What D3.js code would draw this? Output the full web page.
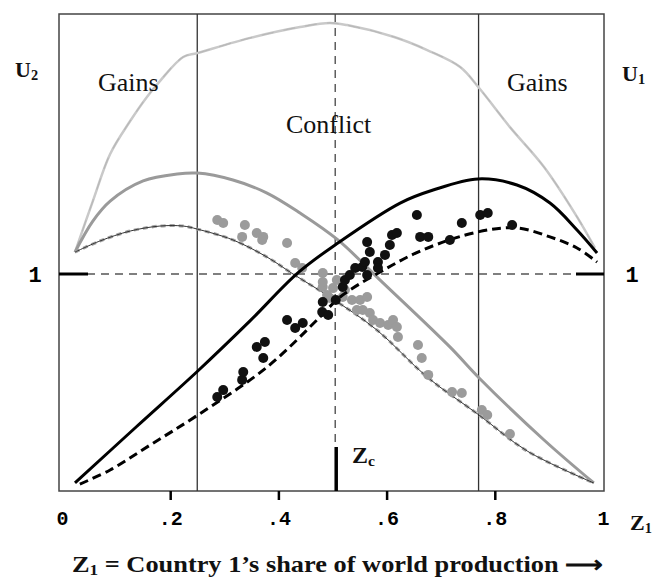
<!DOCTYPE html>
<html>
<head>
<meta charset="utf-8">
<script src="https://cdn.jsdelivr.net/npm/d3@7"></script>
<style>
  body { margin: 0; background: #fff; }
  svg { display: block; }
</style>
</head>
<body>
<div id="chart"></div>
<script>
const width = 657,
  height = 582;

// x = Z1 (country 1's share), y = utility
const tickValues = [0, 0.2, 0.4, 0.6, 0.8, 1];
const gainsLeft = 0.25;
const gainsRight = 0.77;
const zc = 0.505;

// curves [z, U]
const u2Upper = [[0.024,1.101],[0.057,1.336],[0.089,1.553],[0.126,1.705],[0.157,1.816],[0.181,1.889],[0.224,2.0],[0.25,2.018],[0.348,2.088],[0.44,2.138],[0.495,2.157],[0.527,2.147],[0.614,2.092],[0.675,2.032],[0.736,1.954],[0.771,1.857],[0.828,1.677],[0.891,1.493],[0.952,1.263],[0.985,1.12]];
const u2Model = [[0.024,1.101],[0.057,1.244],[0.089,1.336],[0.15,1.429],[0.213,1.461],[0.25,1.465],[0.316,1.433],[0.379,1.373],[0.44,1.281],[0.51,1.157],[0.588,0.972],[0.717,0.664],[0.771,0.521],[0.891,0.235],[0.983,0.037]];
const u2Lower = [[0.024,1.101],[0.07,1.152],[0.126,1.198],[0.181,1.221],[0.224,1.221],[0.25,1.207],[0.316,1.157],[0.379,1.078],[0.427,1.0],[0.495,0.894],[0.582,0.742],[0.675,0.525],[0.771,0.35],[0.86,0.184],[0.983,0.037]];
const u1Model = [[0.024,0.037],[0.137,0.295],[0.251,0.553],[0.348,0.785],[0.436,1.005],[0.51,1.143],[0.625,1.327],[0.686,1.387],[0.769,1.438],[0.841,1.41],[0.902,1.327],[0.952,1.203],[0.989,1.097]];
const u1Lower = [[0.033,0.032],[0.089,0.097],[0.163,0.212],[0.251,0.35],[0.379,0.571],[0.477,0.802],[0.514,0.894],[0.588,1.009],[0.667,1.111],[0.769,1.194],[0.841,1.212],[0.902,1.171],[0.952,1.12],[0.989,1.055]];

// observed points
const u2Dots = [[0.287,1.249],[0.298,1.235],[0.338,1.226],[0.333,1.171],[0.36,1.189],[0.372,1.171],[0.37,1.157],[0.416,1.143],[0.431,1.051],[0.444,1.028],[0.482,1.005],[0.482,0.94],[0.495,0.889],[0.508,0.972],[0.482,0.963],[0.49,0.903],[0.501,0.935],[0.519,0.894],[0.523,0.926],[0.536,0.88],[0.551,0.88],[0.564,0.894],[0.545,0.834],[0.556,0.834],[0.569,0.82],[0.575,0.788],[0.588,0.774],[0.603,0.765],[0.612,0.788],[0.619,0.756],[0.621,0.71],[0.658,0.673],[0.665,0.613],[0.677,0.535],[0.721,0.456],[0.739,0.452],[0.776,0.373],[0.786,0.35],[0.828,0.263]];
const u1Dots = [[0.287,0.433],[0.298,0.465],[0.333,0.512],[0.335,0.548],[0.36,0.664],[0.375,0.687],[0.372,0.613],[0.416,0.788],[0.431,0.751],[0.445,0.774],[0.481,0.825],[0.482,0.871],[0.492,0.811],[0.506,0.88],[0.519,0.94],[0.523,0.972],[0.532,0.995],[0.542,1.028],[0.555,1.032],[0.564,0.995],[0.56,1.055],[0.584,1.055],[0.584,1.028],[0.597,1.088],[0.569,1.101],[0.564,1.147],[0.606,1.134],[0.61,1.18],[0.619,1.189],[0.662,1.171],[0.677,1.171],[0.656,1.272],[0.739,1.235],[0.717,1.157],[0.773,1.272],[0.787,1.281],[0.832,1.226]];

const svg = d3
  .select("#chart")
  .append("svg")
  .attr("width", width)
  .attr("height", height);

svg.append("rect").attr("width", width).attr("height", height).attr("fill", "#fff");

const frame = { left: 59, right: 604, top: 14, bottom: 491 };

const xScale = d3.scaleLinear().domain([0, 1]).range([62, 603]);
const yScale = d3.scaleLinear().domain([0, 1]).range([491, 274]);

// frame
svg
  .append("rect")
  .attr("x", frame.left)
  .attr("y", frame.top)
  .attr("width", frame.right - frame.left)
  .attr("height", frame.bottom - frame.top)
  .attr("fill", "none")
  .attr("stroke", "#444")
  .attr("stroke-width", 1.5);

// x axis
const xAxis = d3
  .axisBottom(xScale)
  .tickValues(tickValues)
  .tickSize(9)
  .tickPadding(11)
  .tickFormat((d) => (d === 0 || d === 1 ? String(d) : String(d).replace("0.", ".")));

const gx = svg
  .append("g")
  .attr("transform", `translate(0, ${frame.bottom})`)
  .call(xAxis);
gx.select(".domain").remove();
gx.selectAll(".tick line")
  .attr("stroke", "#000")
  .attr("stroke-width", 2.5)
  .attr("opacity", (d) => (d === 0 || d === 1 ? 0 : 1));
gx.selectAll(".tick text")
  .attr("fill", "#000")
  .style("font-family", "'Liberation Mono', 'Courier New', monospace")
  .style("font-weight", "bold")
  .style("font-size", "20px");

// gains / conflict dividers
[gainsLeft, gainsRight].forEach((z) => {
  svg
    .append("line")
    .attr("x1", xScale(z))
    .attr("x2", xScale(z))
    .attr("y1", frame.top)
    .attr("y2", frame.bottom)
    .attr("stroke", "#333")
    .attr("stroke-width", 1.3);
});

// U = 1 reference
svg
  .append("line")
  .attr("x1", frame.left)
  .attr("x2", frame.right)
  .attr("y1", yScale(1))
  .attr("y2", yScale(1))
  .attr("stroke", "#555")
  .attr("stroke-width", 1.5)
  .attr("stroke-dasharray", "8,6");
[[frame.left, 88], [576, frame.right]].forEach((s) => {
  svg
    .append("line")
    .attr("x1", s[0])
    .attr("x2", s[1])
    .attr("y1", yScale(1))
    .attr("y2", yScale(1))
    .attr("stroke", "#000")
    .attr("stroke-width", 3);
});

// Zc
svg
  .append("line")
  .attr("x1", xScale(zc))
  .attr("x2", xScale(zc))
  .attr("y1", frame.top)
  .attr("y2", 447)
  .attr("stroke", "#444")
  .attr("stroke-width", 1.3)
  .attr("stroke-dasharray", "8,6");
svg
  .append("line")
  .attr("x1", xScale(zc) + 1)
  .attr("x2", xScale(zc) + 1)
  .attr("y1", 447)
  .attr("y2", frame.bottom)
  .attr("stroke", "#000")
  .attr("stroke-width", 3.5);

const line = d3
  .line()
  .curve(d3.curveCatmullRom)
  .x((d) => xScale(d[0]))
  .y((d) => yScale(d[1]));

function drawCurve(data, color, w, dash) {
  svg
    .append("path")
    .attr("d", line(data))
    .attr("fill", "none")
    .attr("stroke", color)
    .attr("stroke-width", w)
    .attr("stroke-dasharray", dash || null)
    .attr("stroke-linejoin", "round");
}

drawCurve(u2Upper, "#c9c9c9", 2.5);
drawCurve(u2Upper, "#b8b8b8", 1.2, "12,10");
drawCurve(u2Model, "#9a9a9a", 3);
drawCurve(u2Lower, "#a3a3a3", 3, "5,4");
drawCurve(u2Lower, "#333", 1);

// dots
svg
  .append("g")
  .selectAll("circle")
  .data(u2Dots)
  .enter()
  .append("circle")
  .attr("cx", (d) => xScale(d[0]))
  .attr("cy", (d) => yScale(d[1]))
  .attr("r", 5)
  .attr("fill", "#9b9b9b");

drawCurve(u1Model, "#000", 3);
drawCurve(u1Lower, "#000", 3, "9,5");

svg
  .append("g")
  .selectAll("circle")
  .data(u1Dots)
  .enter()
  .append("circle")
  .attr("cx", (d) => xScale(d[0]))
  .attr("cy", (d) => yScale(d[1]))
  .attr("r", 5)
  .attr("fill", "#111");

// labels
const serif = "'Liberation Serif', 'Times New Roman', serif";

function label(x, y, txt, size, weight, anchor) {
  return svg
    .append("text")
    .attr("x", x)
    .attr("y", y)
    .attr("fill", "#111")
    .attr("text-anchor", anchor || "start")
    .style("font-family", serif)
    .style("font-size", size + "px")
    .style("font-weight", weight || "normal")
    .text(txt);
}

label(98, 91, "Gains", 26);
label(507, 91, "Gains", 26);
label(286, 133, "Conflict", 26);

function subLabel(x, y, main, sub, size) {
  const t = label(x, y, main, size, "bold");
  t.append("tspan").attr("dy", 3).style("font-size", size * 0.65 + "px").text(sub);
  return t;
}

subLabel(15, 77, "U", "2", 22);
subLabel(622, 81, "U", "1", 22);
subLabel(630, 530, "Z", "1", 22);
subLabel(352, 463, "Z", "c", 24);

[35, 632].forEach((x) => {
  svg
    .append("text")
    .attr("x", x)
    .attr("y", yScale(1))
    .attr("dy", "0.36em")
    .attr("text-anchor", "middle")
    .style("font-family", "'Liberation Mono', 'Courier New', monospace")
    .style("font-weight", "bold")
    .style("font-size", "22px")
    .text("1");
});

const title = label(72, 572, "", 23, "bold")
  .attr("textLength", 531)
  .attr("lengthAdjust", "spacingAndGlyphs");
title.append("tspan").text("Z");
title.append("tspan").attr("dy", 3).style("font-size", "15px").text("1");
title.append("tspan").attr("dy", -3).text(" = Country 1\u2019s share of world production \u27F6");
</script>
</body>
</html>
